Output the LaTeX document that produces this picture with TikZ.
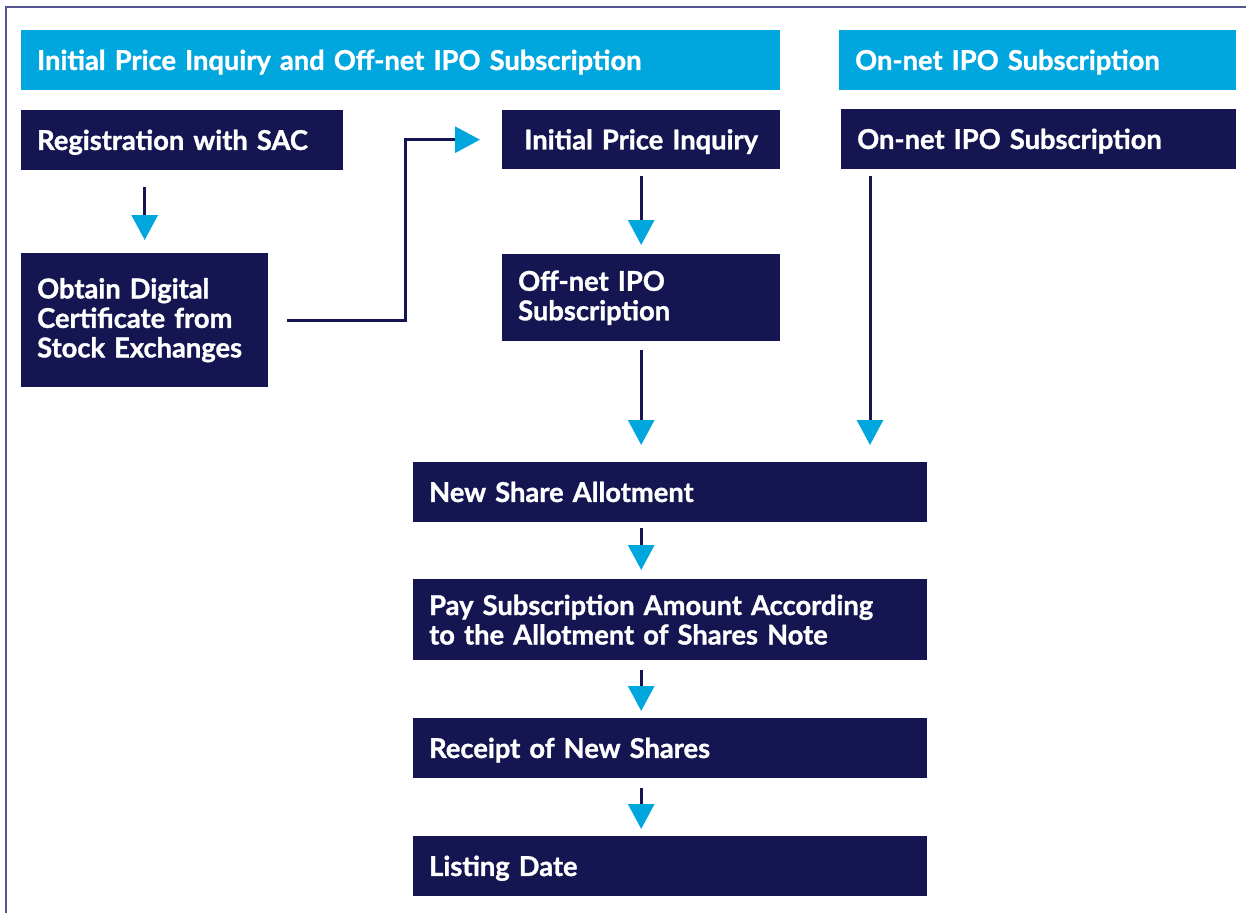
\documentclass[tikz,border=0pt]{standalone}
\usepackage{fontspec}
\setmainfont{Lato}[BoldFeatures={FakeBold=1.2}]
\usetikzlibrary{arrows.meta,calc}
\definecolor{navy}{HTML}{151551}
\definecolor{ipocyan}{HTML}{00A6DE}
\definecolor{framec}{HTML}{55558F}
\begin{document}
\begin{tikzpicture}[x=1pt,y=-1pt,
  every node/.style={font=\bfseries\fontsize{27.3}{29.5}\selectfont, text=white,
    anchor=north west, inner xsep=16pt, inner ysep=0pt, align=left},
  oneline/.style={text height=19.5pt, text depth=0pt},
  head/.style={fill=ipocyan, oneline},
  stepbox/.style={fill=navy},
  flow/.style={draw=navy, line width=3pt,
    -{Triangle[width=26pt,length=25pt,color=ipocyan]}}
]
\useasboundingbox (0,0) rectangle (1246,913);
% outer frame (left and top edges)
\draw[framec, line width=1.5pt] (6,913) -- (6,7) -- (1246,7);

% column headers
\node[head, minimum width=759pt, minimum height=60pt, text width=727pt] (h1) at (21,30)
  {Initial Price Inquiry and Off-net IPO Subscription};
\node[head, minimum width=397pt, minimum height=60pt, text width=365pt] (h2) at (839,30)
  {On-net IPO Subscription};

% process steps
\node[stepbox, oneline, minimum width=322pt, minimum height=60pt, text width=290pt] (reg) at (21,110)
  {Registration with SAC};
\node[stepbox, minimum width=247pt, minimum height=134pt, text width=215pt] (cert) at (21,253)
  {Obtain Digital\\Certificate from\\Stock Exchanges};
\node[stepbox, oneline, minimum width=278pt, minimum height=59pt, text width=246pt, align=center] (ipi) at (502,110)
  {Initial Price Inquiry};
\node[stepbox, minimum width=278pt, minimum height=87pt, text width=246pt] (off) at (502,254)
  {Off-net IPO\\Subscription};
\node[stepbox, oneline, minimum width=395pt, minimum height=60pt, text width=363pt] (on) at (841,109)
  {On-net IPO Subscription};
\node[stepbox, oneline, minimum width=514pt, minimum height=60pt, text width=482pt] (alloc) at (413,462)
  {New Share Allotment};
\node[stepbox, minimum width=514pt, minimum height=81pt, text width=482pt] (pay) at (413,579)
  {Pay Subscription Amount According\\to the Allotment of Shares Note};
\node[stepbox, oneline, minimum width=514pt, minimum height=60pt, text width=482pt] (rec) at (413,718)
  {Receipt of New Shares};
\node[stepbox, oneline, minimum width=514pt, minimum height=60pt, text width=482pt] (list) at (413,836)
  {Listing Date};

% connectors
\coordinate (onx) at ([xshift=29pt]on.south west);
\coordinate (bend) at ($(cert.east)!0.585!(ipi.west)$);
\draw[flow, shorten <=17pt, shorten >=13pt] (reg.south -| cert.north) -- (cert.north);
\draw[flow] ([xshift=19pt]cert.east) -| (bend) |- ([xshift=-22pt]ipi.west);
\draw[flow, shorten <=7pt, shorten >=9pt] (ipi.south) -- (off.north);
\draw[flow, shorten <=9pt, shorten >=17pt] (off.south) -- (off.south |- alloc.north);
\draw[flow, shorten <=7pt, shorten >=17pt] (onx) -- (onx |- alloc.north);
\draw[flow, shorten <=6pt, shorten >=9pt] (alloc.south -| off.south) -- (pay.north -| off.south);
\draw[flow, shorten <=10pt, shorten >=7pt] (pay.south -| off.south) -- (rec.north -| off.south);
\draw[flow, shorten <=10pt, shorten >=7pt] (rec.south -| off.south) -- (list.north -| off.south);
\end{tikzpicture}
\end{document}
